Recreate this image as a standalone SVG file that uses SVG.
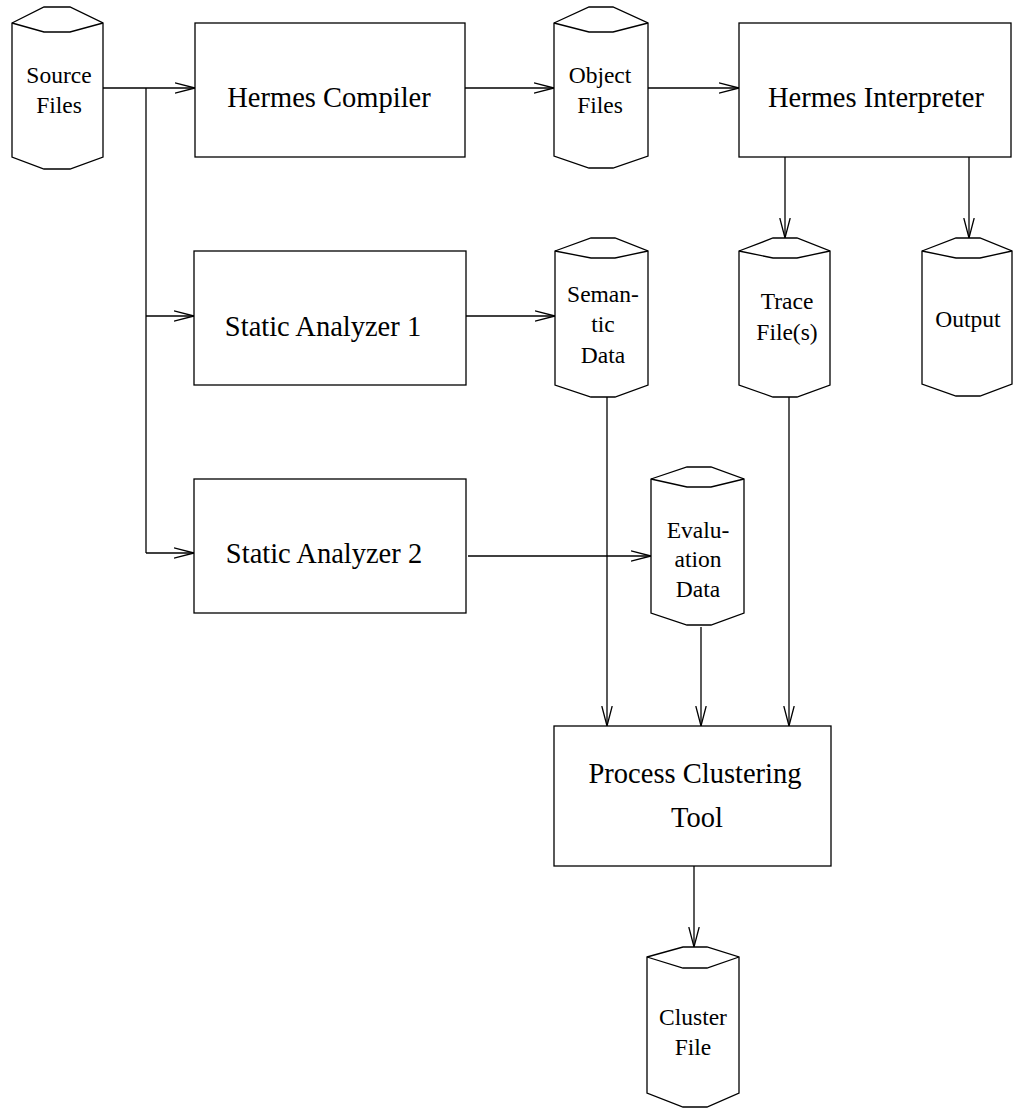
<svg xmlns="http://www.w3.org/2000/svg" width="1013" height="1114" viewBox="0 0 1013 1114">
  <style>
    .shape { fill: #fff; stroke: #000; stroke-width: 1.3; stroke-linejoin: miter; }
    .rim { fill: none; stroke: #000; stroke-width: 1.3; }
    .box-label { font-family: "Liberation Serif", "Times New Roman", serif; font-size: 28.5px; fill: #000; text-anchor: middle; }
    .store-label { font-family: "Liberation Serif", "Times New Roman", serif; font-size: 23.5px; fill: #000; text-anchor: middle; }
    .edge { fill: none; stroke: #000; stroke-width: 1.3; }
    .flow { marker-end: url(#open-arrow); }
  </style>
  <defs>
    <marker id="open-arrow" viewBox="0 0 20 12" refX="20" refY="6" markerWidth="20" markerHeight="12" markerUnits="userSpaceOnUse" orient="auto">
      <path d="M0,0.8 L20,6 L0,11.2" fill="none" stroke="#000" stroke-width="1.3"/>
    </marker>
  </defs>

  <rect width="1013" height="1114" fill="#fff"/>

  <!-- connectors -->
  <g id="connectors">
    <!-- source files feed compiler and both analyzers through a shared trunk -->
    <path class="edge flow" d="M103,88 L195,88"/>
    <path class="edge" d="M146,88 L146,553"/>
    <path class="edge flow" d="M146,316 L194,316"/>
    <path class="edge flow" d="M146,553 L194,553"/>
    <!-- compile / interpret chain -->
    <path class="edge flow" d="M465,88 L554,88"/>
    <path class="edge flow" d="M648,88 L739,88"/>
    <path class="edge flow" d="M785,157 L785,238"/>
    <path class="edge flow" d="M969,157 L969,238"/>
    <!-- analyzer outputs -->
    <path class="edge flow" d="M466,316 L555,316"/>
    <path class="edge flow" d="M468,556 L651,556"/>
    <!-- inputs to the clustering tool -->
    <path class="edge flow" d="M607,397 L607,726"/>
    <path class="edge flow" d="M701,627 L701,726"/>
    <path class="edge flow" d="M789,397 L789,726"/>
    <!-- clustering result -->
    <path class="edge flow" d="M694,866 L694,947"/>
  </g>

  <!-- data stores -->
  <g id="source-files">
    <path class="shape" d="M12,23 L44,7 L70,7 L103,23 L103,157 L70,169 L44,169 L12,157 Z"/>
    <path class="rim" d="M12,23 L44,32 L70,32 L103,23"/>
    <text class="store-label" x="59" y="83">Source</text>
    <text class="store-label" x="59" y="113">Files</text>
  </g>

  <g id="object-files">
    <path class="shape" d="M554,23 L589,7 L613,7 L648,23 L648,156 L613,168 L589,168 L554,156 Z"/>
    <path class="rim" d="M554,23 L589,32 L613,32 L648,23"/>
    <text class="store-label" x="600" y="83">Object</text>
    <text class="store-label" x="600" y="113">Files</text>
  </g>

  <g id="semantic-data">
    <path class="shape" d="M555,251 L591,238 L615,238 L648,251 L648,385 L615,397 L591,397 L555,385 Z"/>
    <path class="rim" d="M555,251 L591,258 L615,258 L648,251"/>
    <text class="store-label" x="603" y="302">Seman-</text>
    <text class="store-label" x="603" y="332">tic</text>
    <text class="store-label" x="603" y="363">Data</text>
  </g>

  <g id="trace-files">
    <path class="shape" d="M739,251 L773,238 L797,238 L830,251 L830,385 L797,397 L773,397 L739,385 Z"/>
    <path class="rim" d="M739,251 L773,258 L797,258 L830,251"/>
    <text class="store-label" x="787" y="309">Trace</text>
    <text class="store-label" x="787" y="340">File(s)</text>
  </g>

  <g id="output">
    <path class="shape" d="M922,251 L956,238 L980,238 L1012,251 L1012,384 L980,396 L956,396 L922,384 Z"/>
    <path class="rim" d="M922,251 L956,258 L980,258 L1012,251"/>
    <text class="store-label" x="968" y="327">Output</text>
  </g>

  <g id="evaluation-data">
    <path class="shape" d="M651,479 L687,467 L711,467 L744,479 L744,613 L711,625 L687,625 L651,613 Z"/>
    <path class="rim" d="M651,479 L687,487 L711,487 L744,479"/>
    <text class="store-label" x="698" y="538">Evalu-</text>
    <text class="store-label" x="698" y="567">ation</text>
    <text class="store-label" x="698" y="597">Data</text>
  </g>

  <g id="cluster-file">
    <path class="shape" d="M647,957 L683,947 L707,947 L739,957 L739,1093 L707,1107 L683,1107 L647,1093 Z"/>
    <path class="rim" d="M647,957 L683,968 L707,968 L739,957"/>
    <text class="store-label" x="693" y="1025">Cluster</text>
    <text class="store-label" x="693" y="1055">File</text>
  </g>

  <!-- processing steps -->
  <g id="hermes-compiler">
    <rect class="shape" x="195" y="23" width="270" height="134"/>
    <text class="box-label" x="329" y="107">Hermes Compiler</text>
  </g>

  <g id="hermes-interpreter">
    <rect class="shape" x="739" y="23" width="272" height="134"/>
    <text class="box-label" x="876" y="107">Hermes Interpreter</text>
  </g>

  <g id="static-analyzer-1">
    <rect class="shape" x="194" y="251" width="272" height="134"/>
    <text class="box-label" x="323" y="336">Static Analyzer 1</text>
  </g>

  <g id="static-analyzer-2">
    <rect class="shape" x="194" y="479" width="272" height="134"/>
    <text class="box-label" x="324" y="563">Static Analyzer 2</text>
  </g>

  <g id="process-clustering-tool">
    <rect class="shape" x="554" y="726" width="277" height="140"/>
    <text class="box-label" x="695" y="783">Process Clustering</text>
    <text class="box-label" x="697" y="827">Tool</text>
  </g>
</svg>
